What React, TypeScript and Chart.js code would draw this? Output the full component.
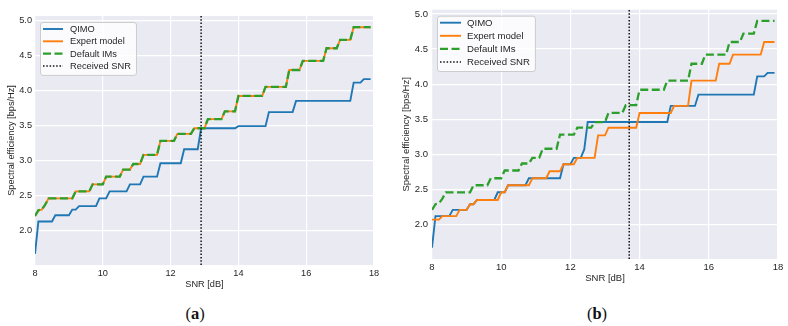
import React, { useEffect, useRef } from 'react';
import { Chart, registerables } from 'chart.js';

Chart.register(...registerables);

type Pt = [number, number];

// ---- data -------------------------------------------------------------
const snrTicks = [8, 10, 12, 14, 16, 18];
const seTicks = [2.0, 2.5, 3.0, 3.5, 4.0, 4.5, 5.0];
const snrRange: Pt = [8, 18];
const seRange: Pt = [1.51, 5.06];

const seriesNames = ['QIMO', 'Expert model', 'Default IMs', 'Received SNR'];

// Default IMs (same curve in both panels): [SNR dB, bps/Hz]
const defaultIMs: Pt[] = [
  [8.0, 2.21], [8.1, 2.29], [8.2, 2.30], [8.3, 2.37], [8.4, 2.46], [9.1, 2.46],
  [9.2, 2.56], [9.6, 2.56], [9.7, 2.66], [10.0, 2.66], [10.1, 2.77], [10.5, 2.77],
  [10.6, 2.87], [10.8, 2.87], [10.9, 2.95], [11.1, 2.95], [11.2, 3.08], [11.6, 3.08],
  [11.7, 3.28], [12.1, 3.28], [12.2, 3.38], [12.6, 3.38], [12.7, 3.46], [13.0, 3.46],
  [13.1, 3.59], [13.5, 3.59], [13.6, 3.70], [13.9, 3.70], [14.0, 3.92], [14.7, 3.92],
  [14.8, 4.05], [15.4, 4.05], [15.5, 4.29], [15.8, 4.29], [15.9, 4.42], [16.5, 4.42],
  [16.6, 4.60], [16.9, 4.60], [17.0, 4.72], [17.3, 4.72], [17.4, 4.90], [17.9, 4.90],
];

// Panel (a)
const qimoA: Pt[] = [
  [8.0, 1.67], [8.1, 2.13], [8.5, 2.13], [8.6, 2.22], [9.0, 2.22], [9.1, 2.30],
  [9.2, 2.30], [9.3, 2.35], [9.8, 2.35], [9.9, 2.46], [10.1, 2.46], [10.2, 2.56],
  [10.7, 2.56], [10.8, 2.66], [11.1, 2.66], [11.2, 2.77], [11.6, 2.77], [11.7, 2.96],
  [12.3, 2.96], [12.4, 3.16], [12.8, 3.16], [12.9, 3.46], [13.9, 3.46], [14.0, 3.49],
  [14.8, 3.49], [14.9, 3.69], [15.6, 3.69], [15.7, 3.85], [17.3, 3.85], [17.4, 4.11],
  [17.6, 4.11], [17.7, 4.16], [17.9, 4.16],
];
// the expert model coincides with the default IMs here
const expertA: Pt[] = defaultIMs;
const receivedSnrA = 12.9;

// Panel (b)
const qimoB: Pt[] = [
  [8.0, 1.67], [8.1, 2.12], [8.5, 2.12], [8.6, 2.21], [9.0, 2.21], [9.1, 2.29],
  [9.2, 2.29], [9.3, 2.35], [9.8, 2.35], [9.9, 2.46], [10.1, 2.46], [10.2, 2.56],
  [10.7, 2.56], [10.8, 2.66], [11.7, 2.66], [11.8, 2.86], [12.0, 2.86], [12.1, 2.95],
  [12.3, 2.95], [12.4, 3.07], [12.5, 3.46], [14.8, 3.46], [14.9, 3.69], [15.6, 3.69],
  [15.7, 3.85], [17.3, 3.85], [17.4, 4.11], [17.6, 4.11], [17.7, 4.16], [17.9, 4.16],
];
const expertB: Pt[] = [
  [8.0, 2.07], [8.2, 2.07], [8.3, 2.12], [8.7, 2.12], [8.8, 2.21], [9.0, 2.21],
  [9.1, 2.29], [9.2, 2.29], [9.3, 2.35], [9.9, 2.35], [10.0, 2.46], [10.1, 2.46],
  [10.2, 2.56], [10.8, 2.56], [10.9, 2.66], [11.3, 2.66], [11.4, 2.76], [11.7, 2.76],
  [11.8, 2.86], [12.1, 2.86], [12.2, 2.95], [12.7, 2.95], [12.8, 3.27], [13.0, 3.27],
  [13.1, 3.38], [13.9, 3.38], [14.0, 3.59], [14.9, 3.59], [15.0, 3.69], [15.4, 3.69],
  [15.5, 4.05], [16.2, 4.05], [16.3, 4.29], [16.6, 4.29], [16.7, 4.42], [17.5, 4.42],
  [17.6, 4.60], [17.9, 4.60],
];
const receivedSnrB = 13.7;

// ---- styling ----------------------------------------------------------
const FONT = '"Liberation Sans", Arial, sans-serif';
const TEXT = '#262626';
const BLUE = '#1f77b4';
const ORANGE = '#ff7f0e';
const GREEN = '#2ca02c';
const PANEL_BG = '#eaeaf2';

interface PanelCfg {
  left: number;
  width: number;
  height: number;
  area: { left: number; top: number; right: number; bottom: number };
  fontSize: number;
  yTitleX: number;
  xTitleY: number;
  yTickPad: number;
  xTickPad: number;
  legend: { dx: number; dy: number; row: number; padTop: number; padBottom: number; sample: number; textX: number };
  qimo: Pt[];
  expert: Pt[];
  received: number;
}

const toXY = (pts: Pt[]) => pts.map(([x, y]) => ({ x, y }));

// fills the plotting area like a seaborn "darkgrid" axes
const panelBackground = {
  id: 'panelBackground',
  beforeDraw(chart: any) {
    const { ctx, chartArea: a } = chart;
    ctx.save();
    ctx.fillStyle = PANEL_BG;
    ctx.fillRect(a.left, a.top, a.right - a.left, a.bottom - a.top);
    ctx.restore();
  },
};

// framed legend in the upper-left corner of the plotting area
const panelLegend = {
  id: 'panelLegend',
  afterDraw(chart: any, _args: any, opts: any) {
    const { ctx, chartArea: a } = chart;
    const sets = chart.data.datasets;
    ctx.save();
    ctx.font = `${opts.fontSize}px ${FONT}`;
    const maxText = Math.max(...sets.map((d: any) => ctx.measureText(d.label).width));
    const x0 = a.left + opts.dx;
    const y0 = a.top + opts.dy;
    const w = opts.textX + maxText + 5;
    const h = opts.padTop + opts.row * (sets.length - 1) + opts.padBottom;
    ctx.beginPath();
    ctx.roundRect(x0 + 0.5, y0 + 0.5, w, h, 2.5);
    ctx.fillStyle = 'rgba(255,255,255,0.8)';
    ctx.fill();
    ctx.strokeStyle = '#cccccc';
    ctx.lineWidth = 1;
    ctx.stroke();
    sets.forEach((d: any, i: number) => {
      const yy = y0 + opts.padTop + i * opts.row;
      ctx.beginPath();
      ctx.setLineDash(d.borderDash || []);
      ctx.strokeStyle = d.borderColor;
      ctx.lineWidth = d.borderWidth;
      ctx.moveTo(x0 + 3, yy);
      ctx.lineTo(x0 + 3 + opts.sample, yy);
      ctx.stroke();
      ctx.setLineDash([]);
      ctx.fillStyle = TEXT;
      ctx.textBaseline = 'middle';
      ctx.textAlign = 'left';
      ctx.fillText(d.label, x0 + opts.textX, yy + 0.5);
    });
    ctx.restore();
  },
};

function Panel({ cfg }: { cfg: PanelCfg }) {
  const ref = useRef<HTMLCanvasElement>(null);

  useEffect(() => {
    const canvas = ref.current;
    if (!canvas) return;
    const fs = cfg.fontSize;
    const lh = fs * 1.2;
    const font = { family: FONT, size: fs, lineHeight: 1.2 };

    const chart = new Chart(canvas, {
      type: 'line',
      data: {
        datasets: [
          {
            label: seriesNames[0],
            data: toXY(cfg.qimo),
            borderColor: BLUE,
            borderWidth: 1.9,
            order: 4,
          },
          {
            label: seriesNames[1],
            data: toXY(cfg.expert),
            borderColor: ORANGE,
            borderWidth: 1.9,
            order: 3,
          },
          {
            label: seriesNames[2],
            data: toXY(defaultIMs),
            borderColor: GREEN,
            borderWidth: 2.3,
            borderDash: [8, 3.5],
            order: 2,
          },
          {
            label: seriesNames[3],
            data: [
              { x: cfg.received, y: seRange[0] },
              { x: cfg.received, y: seRange[1] },
            ],
            borderColor: '#111111',
            borderWidth: 1.5,
            borderDash: [1.5, 1.8],
            order: 1,
          },
        ],
      },
      options: {
        animation: false,
        responsive: false,
        devicePixelRatio: 1,
        elements: { point: { radius: 0, hoverRadius: 0 }, line: { tension: 0 } },
        layout: {
          padding: { left: 0, top: cfg.area.top, right: cfg.width - cfg.area.right, bottom: 0 },
        },
        plugins: {
          legend: { display: false },
          tooltip: { enabled: false },
          panelLegend: { ...cfg.legend, fontSize: fs + 0.1 },
        } as any,
        scales: {
          x: {
            type: 'linear',
            min: snrRange[0],
            max: snrRange[1],
            border: { display: false },
            grid: { color: '#ffffff', lineWidth: 1.2, drawTicks: false },
            ticks: { color: TEXT, font, padding: cfg.xTickPad, maxRotation: 0, autoSkip: false },
            afterBuildTicks: (s: any) => {
              s.ticks = snrTicks.map((v) => ({ value: v }));
            },
            afterFit: (s: any) => {
              s.height = cfg.height - cfg.area.bottom;
            },
            title: {
              display: true,
              text: 'SNR [dB]',
              color: TEXT,
              font,
              padding: { top: 0, bottom: cfg.height - cfg.xTitleY - lh / 2 },
            },
          },
          y: {
            type: 'linear',
            min: seRange[0],
            max: seRange[1],
            border: { display: false },
            grid: { color: '#ffffff', lineWidth: 1.2, drawTicks: false },
            ticks: {
              color: TEXT,
              font,
              padding: cfg.yTickPad,
              callback: (v: any) => Number(v).toFixed(1),
            },
            afterBuildTicks: (s: any) => {
              s.ticks = seTicks.map((v) => ({ value: v }));
            },
            afterFit: (s: any) => {
              s.width = cfg.area.left;
            },
            title: {
              display: true,
              text: 'Spectral efficiency [bps/Hz]',
              color: TEXT,
              font,
              padding: { top: cfg.yTitleX - lh / 2, bottom: 0 },
            },
          },
        },
      },
      plugins: [panelBackground, panelLegend],
    });
    return () => chart.destroy();
  }, [cfg]);

  return (
    <canvas
      ref={ref}
      width={cfg.width}
      height={cfg.height}
      style={{ position: 'absolute', left: cfg.left, top: 0, width: cfg.width, height: cfg.height }}
    />
  );
}

const panelA: PanelCfg = {
  left: 0,
  width: 392,
  height: 300,
  area: { left: 35, top: 16, right: 374, bottom: 265 },
  fontSize: 9.2,
  yTitleX: 11,
  xTitleY: 284,
  yTickPad: 3,
  xTickPad: 2.5,
  legend: { dx: 5, dy: 6, row: 12.3, padTop: 7, padBottom: 9, sample: 20, textX: 30 },
  qimo: qimoA,
  expert: expertA,
  received: receivedSnrA,
};

const panelB: PanelCfg = {
  left: 392,
  width: 396,
  height: 300,
  area: { left: 40, top: 4, right: 386, bottom: 259 },
  fontSize: 9.5,
  yTitleX: 14.5,
  xTitleY: 278,
  yTickPad: 4,
  xTickPad: 2.5,
  legend: { dx: 5, dy: 6, row: 13.1, padTop: 7, padBottom: 9, sample: 21, textX: 30 },
  qimo: qimoB,
  expert: expertB,
  received: receivedSnrB,
};

const captionStyle: React.CSSProperties = {
  position: 'absolute',
  top: 305,
  width: 40,
  textAlign: 'center',
  fontFamily: '"Liberation Serif", "DejaVu Serif", serif',
  fontSize: 16.5,
  lineHeight: '18px',
  color: '#111',
};

export default function App() {
  return (
    <div
      style={{
        position: 'fixed',
        left: 0,
        top: 0,
        width: 788,
        height: 326,
        background: '#ffffff',
        overflow: 'hidden',
      }}
    >
      <Panel cfg={panelA} />
      <Panel cfg={panelB} />
      <div style={{ ...captionStyle, left: 175 }}>
        (<b>a</b>)
      </div>
      <div style={{ ...captionStyle, left: 577 }}>
        (<b>b</b>)
      </div>
    </div>
  );
}
